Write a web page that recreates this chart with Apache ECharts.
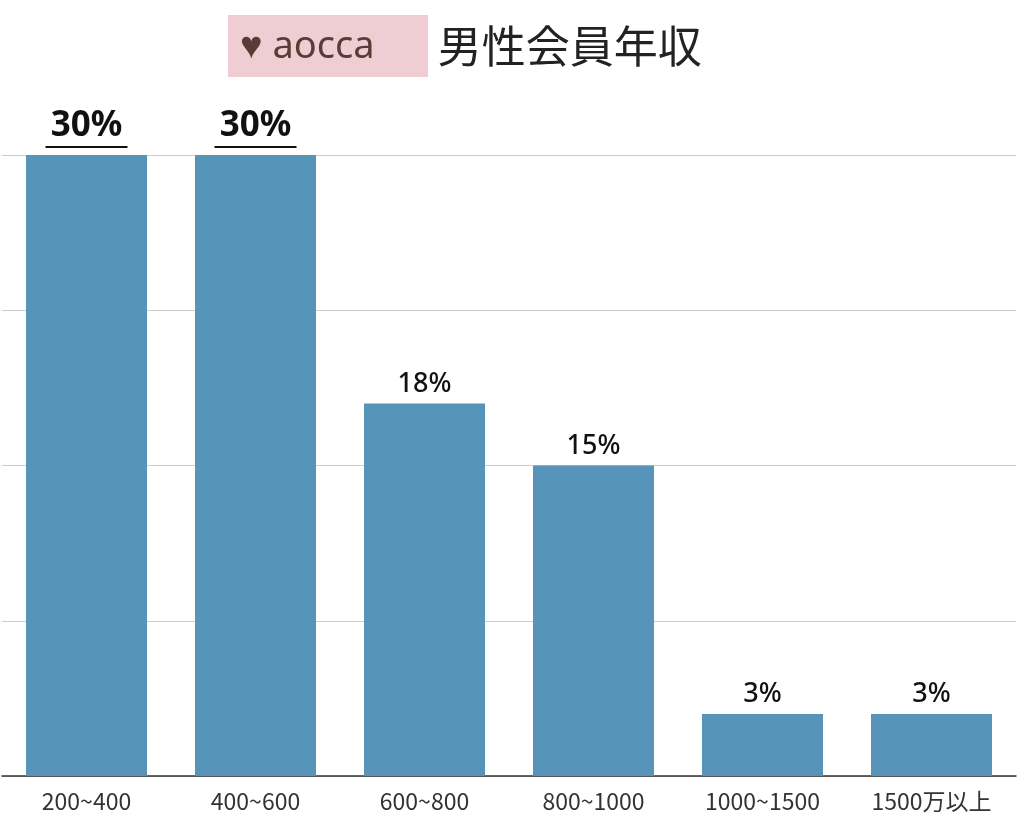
<!DOCTYPE html>
<html><head><meta charset="utf-8">
<script src="https://cdn.jsdelivr.net/npm/echarts@6/dist/echarts.min.js"></script>
<style>html,body{margin:0;background:#fff}#c{width:1024px;height:817px}</style>
</head><body><div id="c"></div>
<script>
var categories = ['200~400', '400~600', '600~800', '800~1000', '1000~1500', '1500万以上'];
var values = [30, 30, 18, 15, 3, 3];
var yTicks = [0, 7.5, 15, 22.5, 30];

var chart = echarts.init(document.getElementById('c'));
chart.setOption({
  animation: false,
  title: {
    left: 223, top: 10,
    text: '{logo|♥ aocca}{main| 男性会員年収}',
    textStyle: {
      fontWeight: 'normal',
      rich: {
        logo: { fontSize: 38, color: '#5a3b36', backgroundColor: '#f0cdd3', padding: [9, 14, 7, 12], width: 174, height: 46, fontFamily: 'Noto Sans', fontWeight: 'normal' },
        main: { fontSize: 44, color: '#222', fontFamily: 'Noto Sans CJK JP', fontWeight: 'normal' }
      }
    }
  },
  grid: { left: 2, right: 8, top: 155, bottom: 41 },
  xAxis: {
    type: 'category', data: categories,
    axisLine: { lineStyle: { color: '#333', width: 1.5 } },
    axisTick: { show: false },
    axisLabel: { fontSize: 23, color: '#333', margin: 14, fontFamily: 'Noto Sans CJK JP' }
  },
  yAxis: {
    type: 'value', min: yTicks[0], max: yTicks[yTicks.length - 1], interval: 7.5,
    axisLabel: { show: false }, axisLine: { show: false }, axisTick: { show: false },
    splitLine: { lineStyle: { color: '#ccc' } }
  },
  series: [{
    type: 'bar', data: values, barWidth: 121,
    itemStyle: { color: '#5694b9' },
    label: {
      show: true, position: 'top', distance: 6, color: '#111',
      fontFamily: 'Noto Sans', fontSize: 27, fontWeight: 500,
      formatter: function (p) { return p.value >= 30 ? '{b|' + p.value + '%}\n{u|}' : p.value + '%'; },
      rich: {
        b: { fontSize: 35, fontWeight: 'bold', color: '#111', fontFamily: 'Noto Sans', lineHeight: 38 },
        u: { width: 82, height: 2, backgroundColor: '#111', lineHeight: 4 }
      }
    }
  }]
});
</script></body></html>
